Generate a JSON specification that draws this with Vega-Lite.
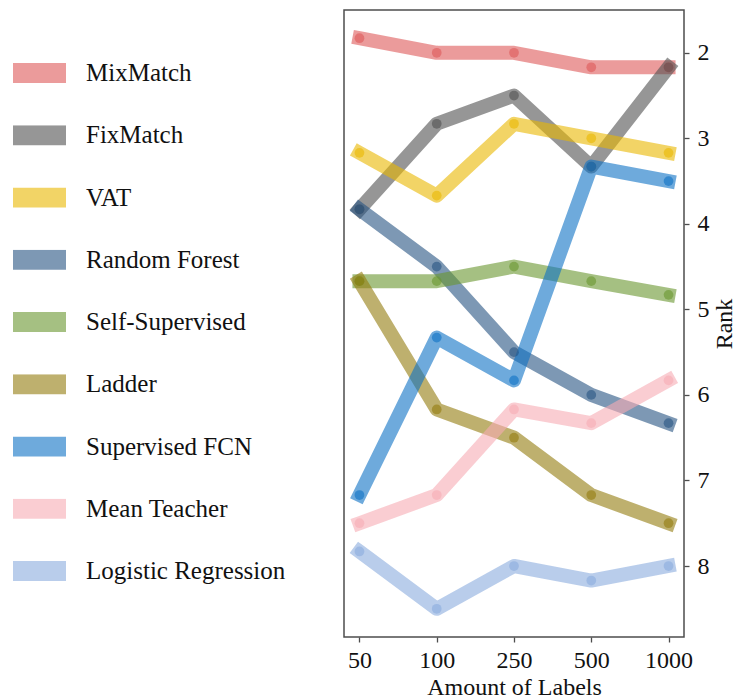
{
  "$schema": "https://vega.github.io/schema/vega-lite/v6.json",
  "width": 340,
  "height": 627,
  "autosize": {"type": "none"},
  "padding": {"left": 344, "top": 10, "right": 52, "bottom": 63},
  "background": "white",
  "config": {
    "font": "Liberation Serif",
    "view": {"stroke": "#4d4d4d", "strokeWidth": 1.5},
    "axis": {
      "grid": false,
      "domain": false,
      "tickColor": "#4d4d4d",
      "tickWidth": 1.3,
      "tickSize": 5,
      "labelFont": "Liberation Serif",
      "labelFontSize": 24,
      "labelColor": "#111",
      "titleFont": "Liberation Serif",
      "titleFontSize": 24,
      "titleFontWeight": "normal",
      "titleColor": "#111"
    }
  },
  "data": {
    "values": [
      {"method": "MixMatch", "labels": 50, "rank": 1.83},
      {"method": "MixMatch", "labels": 100, "rank": 2.0},
      {"method": "MixMatch", "labels": 250, "rank": 2.0},
      {"method": "MixMatch", "labels": 500, "rank": 2.17},
      {"method": "MixMatch", "labels": 1000, "rank": 2.17},
      {"method": "FixMatch", "labels": 50, "rank": 3.83},
      {"method": "FixMatch", "labels": 100, "rank": 2.83},
      {"method": "FixMatch", "labels": 250, "rank": 2.5},
      {"method": "FixMatch", "labels": 500, "rank": 3.33},
      {"method": "FixMatch", "labels": 1000, "rank": 2.17},
      {"method": "VAT", "labels": 50, "rank": 3.17},
      {"method": "VAT", "labels": 100, "rank": 3.67},
      {"method": "VAT", "labels": 250, "rank": 2.83},
      {"method": "VAT", "labels": 500, "rank": 3.0},
      {"method": "VAT", "labels": 1000, "rank": 3.17},
      {"method": "Random Forest", "labels": 50, "rank": 3.83},
      {"method": "Random Forest", "labels": 100, "rank": 4.5},
      {"method": "Random Forest", "labels": 250, "rank": 5.5},
      {"method": "Random Forest", "labels": 500, "rank": 6.0},
      {"method": "Random Forest", "labels": 1000, "rank": 6.33},
      {"method": "Self-Supervised", "labels": 50, "rank": 4.67},
      {"method": "Self-Supervised", "labels": 100, "rank": 4.67},
      {"method": "Self-Supervised", "labels": 250, "rank": 4.5},
      {"method": "Self-Supervised", "labels": 500, "rank": 4.67},
      {"method": "Self-Supervised", "labels": 1000, "rank": 4.83},
      {"method": "Ladder", "labels": 50, "rank": 4.67},
      {"method": "Ladder", "labels": 100, "rank": 6.17},
      {"method": "Ladder", "labels": 250, "rank": 6.5},
      {"method": "Ladder", "labels": 500, "rank": 7.17},
      {"method": "Ladder", "labels": 1000, "rank": 7.5},
      {"method": "Supervised FCN", "labels": 50, "rank": 7.17},
      {"method": "Supervised FCN", "labels": 100, "rank": 5.33},
      {"method": "Supervised FCN", "labels": 250, "rank": 5.83},
      {"method": "Supervised FCN", "labels": 500, "rank": 3.33},
      {"method": "Supervised FCN", "labels": 1000, "rank": 3.5},
      {"method": "Mean Teacher", "labels": 50, "rank": 7.5},
      {"method": "Mean Teacher", "labels": 100, "rank": 7.17},
      {"method": "Mean Teacher", "labels": 250, "rank": 6.17},
      {"method": "Mean Teacher", "labels": 500, "rank": 6.33},
      {"method": "Mean Teacher", "labels": 1000, "rank": 5.83},
      {"method": "Logistic Regression", "labels": 50, "rank": 7.83},
      {"method": "Logistic Regression", "labels": 100, "rank": 8.5},
      {"method": "Logistic Regression", "labels": 250, "rank": 8.0},
      {"method": "Logistic Regression", "labels": 500, "rank": 8.17},
      {"method": "Logistic Regression", "labels": 1000, "rank": 8.0}
    ]
  },
  "encoding": {
    "x": {
      "field": "labels",
      "type": "ordinal",
      "scale": {"type": "point", "padding": 0.2},
      "axis": {"title": "Amount of Labels", "labelAngle": 0, "labelPadding": 6, "titlePadding": 3}
    },
    "y": {
      "field": "rank",
      "type": "quantitative",
      "scale": {"domain": [1.5, 8.83], "reverse": true, "nice": false, "zero": false},
      "axis": {
        "orient": "right",
        "values": [2, 3, 4, 5, 6, 7, 8],
        "title": "Rank",
        "titleAngle": -90,
        "labelPadding": 8,
        "titlePadding": 27
      }
    },
    "color": {
      "field": "method",
      "type": "nominal",
      "scale": {
        "domain": ["MixMatch", "FixMatch", "VAT", "Random Forest", "Self-Supervised", "Ladder", "Supervised FCN", "Mean Teacher", "Logistic Regression"],
        "range": ["#de5858", "#505050", "#e9b700", "#265382", "#69962f", "#937b0d", "#0d71c5", "#f7acb4", "#8aacde"]
      },
      "legend": {
        "orient": "none",
        "legendX": -331,
        "legendY": 53,
        "direction": "vertical",
        "title": null,
        "symbolType": "M-1,-0.38H1V0.38H-1Z",
        "symbolSize": 2809,
        "symbolOpacity": 0.6,
        "symbolStrokeWidth": 0,
        "clipHeight": 20,
        "rowPadding": 37.25,
        "labelFont": "Liberation Serif",
        "labelFontSize": 25,
        "labelColor": "#111",
        "labelOffset": 20,
        "labelLimit": 320,
        "encode": {
          "symbols": {
            "update": {
              "fill": {"scale": "color", "field": "value"},
              "stroke": {"value": "transparent"},
              "opacity": {"value": 0.6}
            }
          }
        }
      }
    }
  },
  "layer": [
    {"mark": {"type": "line", "strokeWidth": 14, "opacity": 0.6, "strokeCap": "square", "strokeJoin": "round"}},
    {"mark": {"type": "circle", "size": 95, "opacity": 0.6}}
  ]
}
